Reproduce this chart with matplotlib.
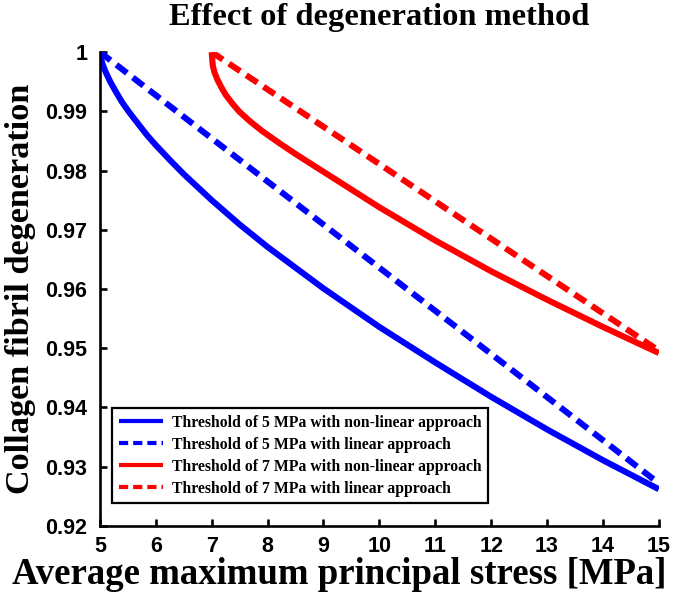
#!/usr/bin/env python3
"""Collagen fibril degeneration versus average maximum principal stress."""

import matplotlib

matplotlib.use("Agg")
import matplotlib.pyplot as plt

# values
stress_5 = [5.0, 5.02, 5.05, 5.1, 5.18, 5.28, 5.4, 5.52, 5.7, 5.85, 6.0, 6.25, 6.5,
            7.0, 7.5, 8.0, 9.0, 10.0, 11.0, 12.0, 13.0, 14.0, 15.0]
nonlinear_5 = [1.0, 0.9989, 0.9979, 0.9967, 0.9951, 0.9934, 0.9915, 0.9899, 0.9877,
               0.9859, 0.9843, 0.9818, 0.9794, 0.9750, 0.9709, 0.9671, 0.9601,
               0.9536, 0.9476, 0.9418, 0.9363, 0.9311, 0.9262]
linear_5_x = [5.0, 15.0]
linear_5 = [1.0, 0.9272]

stress_7 = [7.0, 7.02, 7.05, 7.1, 7.17, 7.25, 7.38, 7.5, 7.7, 7.9, 8.2, 8.5, 9.0,
            9.5, 10.0, 11.0, 12.0, 13.0, 14.0, 15.0]
nonlinear_7 = [1.0, 0.9977, 0.9966, 0.9954, 0.9941, 0.9928, 0.9912, 0.9899, 0.9882,
               0.9867, 0.9847, 0.9828, 0.9798, 0.9768, 0.9738, 0.9682, 0.9630,
               0.9582, 0.9536, 0.9492]
linear_7_x = [7.0, 15.0]
linear_7 = [1.0, 0.9496]

labels = [
    "Threshold of 5 MPa with non-linear approach",
    "Threshold of 5 MPa with linear approach",
    "Threshold of 7 MPa with non-linear approach",
    "Threshold of 7 MPa with linear approach",
]
x_ticks = list(range(5, 16))
y_ticks = [0.92, 0.93, 0.94, 0.95, 0.96, 0.97, 0.98, 0.99, 1.0]
y_tick_labels = ["0.92", "0.93", "0.94", "0.95", "0.96", "0.97", "0.98", "0.99", "1"]

SERIF = "Liberation Serif"
SANS = "Liberation Sans"
BLUE = "#0000ff"
RED = "#ff0000"
LW = 4.4
DASH = (0, (2.2, 1.2))

figure = plt.figure(figsize=(6.75, 5.99), dpi=100)
axis = figure.add_axes([0.148, 0.122, 0.828, 0.791])

lines = [
    axis.plot(stress_5, nonlinear_5, color=BLUE, lw=LW, solid_capstyle="butt",
              solid_joinstyle="round")[0],
    axis.plot(linear_5_x, linear_5, color=BLUE, lw=LW, linestyle=DASH,
              dash_capstyle="butt")[0],
    axis.plot(stress_7, nonlinear_7, color=RED, lw=LW, solid_capstyle="butt",
              solid_joinstyle="round")[0],
    axis.plot(linear_7_x, linear_7, color=RED, lw=LW, linestyle=DASH,
              dash_capstyle="butt")[0],
]

axis.set_xlim(5, 15)
axis.set_ylim(0.92, 1.0)
axis.set_xticks(x_ticks)
axis.set_xticklabels([str(v) for v in x_ticks])
axis.set_yticks(y_ticks)
axis.set_yticklabels(y_tick_labels)
for side in ("top", "right"):
    axis.spines[side].set_visible(False)
for side in ("left", "bottom"):
    axis.spines[side].set_linewidth(1.9)
axis.tick_params(direction="in", length=5, width=1.9)
axis.tick_params(axis="y", pad=9)
axis.tick_params(axis="x", pad=7)
for label in axis.get_xticklabels() + axis.get_yticklabels():
    label.set_fontfamily(SANS)
    label.set_fontweight("bold")
    label.set_fontsize(15.5)

axis.set_title("Effect of degeneration method", family=SERIF, weight="bold",
               fontsize=23.4, pad=19.5)
axis.set_xlabel("Average maximum principal stress [MPa]", family=SERIF,
                weight="bold", fontsize=26.5)
axis.xaxis.set_label_coords(0.428, -0.065)
axis.set_ylabel("Collagen fibril degeneration", family=SERIF, weight="bold",
                fontsize=24.7)
axis.yaxis.set_label_coords(-0.115, 0.5)

legend = axis.legend(
    lines, labels, loc="lower left", bbox_to_anchor=(0.022, 0.048),
    borderaxespad=0, fancybox=False, edgecolor="black", framealpha=1,
    prop={"family": SERIF, "weight": "bold", "size": 11.3},
    handlelength=2.8, handletextpad=0.6, labelspacing=0.38, borderpad=0.42,
)
legend.get_frame().set_linewidth(1.6)
for handle in legend.get_lines():
    handle.set_linewidth(3.0)

figure.savefig("out.png", dpi=100)
